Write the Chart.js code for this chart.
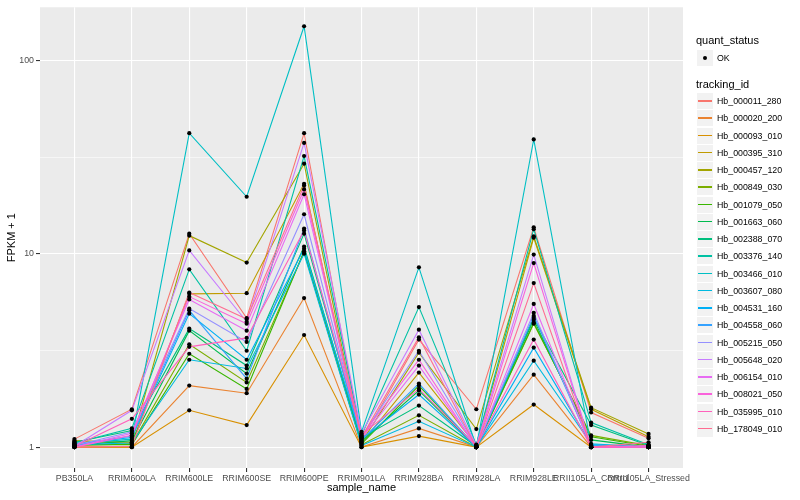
<!DOCTYPE html>
<html>
<head>
<meta charset="utf-8">
<script src="https://cdn.jsdelivr.net/npm/chart.js@4.4.1/dist/chart.umd.min.js"></script>
<style>
  body { margin: 0; background: #fff; font-family: "Liberation Sans", Arial, sans-serif; }
  #wrap { position: relative; width: 800px; height: 500px; }
  #legend { position: absolute; left: 0; top: 0; width: 800px; height: 500px; pointer-events: none; }
  .lg-title { position: absolute; left: 696px; font-size: 11px; line-height: 13px; color: #000; }
  .lg-key { position: absolute; left: 697px; width: 16px; height: 16px; background: #F2F2F2; }
  .lg-line { position: absolute; left: 1px; top: 7px; width: 14px; height: 1.5px; }
  .lg-dot { position: absolute; left: 6px; top: 6px; width: 4px; height: 4px; border-radius: 2px; background: #000; }
  .lg-text { position: absolute; left: 717px; font-size: 8.8px; line-height: 10px; color: #000; }
</style>
</head>
<body>
<div id="wrap">
  <canvas id="chart" width="800" height="500"></canvas>
  <div id="legend"></div>
</div>
<script>
const sampleNames = ["PB350LA", "RRIM600LA", "RRIM600LE", "RRIM600SE", "RRIM600PE", "RRIM901LA",
  "RRIM928BA", "RRIM928LA", "RRIM928LE", "RRII105LA_Control", "RRII105LA_Stressed"];

const trackingIds = ["Hb_000011_280", "Hb_000020_200", "Hb_000093_010", "Hb_000395_310", "Hb_000457_120",
  "Hb_000849_030", "Hb_001079_050", "Hb_001663_060", "Hb_002388_070", "Hb_003376_140", "Hb_003466_010",
  "Hb_003607_080", "Hb_004531_160", "Hb_004558_060", "Hb_005215_050", "Hb_005648_020", "Hb_006154_010",
  "Hb_008021_050", "Hb_035995_010", "Hb_178049_010"];

// FPKM + 1, one array per gene, in sampleNames order
const hb_000011_280 = [1.10, 1.57, 12.7, 4.65, 42.0, 1.08, 3.60, 1.57, 13.7, 1.51, 1.11];
const hb_000020_200 = [1.00, 1.00, 2.08, 1.90, 5.90, 1.00, 1.25, 1.00, 2.37, 1.00, 1.00];
const hb_000093_010 = [1.00, 1.00, 1.55, 1.30, 3.80, 1.00, 1.14, 1.00, 1.66, 1.00, 1.00];
const hb_000395_310 = [1.07, 1.05, 6.20, 6.25, 23.0, 1.05, 2.43, 1.02, 12.1, 1.57, 1.13];
const hb_000457_120 = [1.08, 1.06, 12.4, 9.00, 29.2, 1.06, 3.08, 1.24, 12.3, 1.60, 1.17];
const hb_000849_030 = [1.02, 1.04, 3.40, 2.16, 10.2, 1.03, 1.46, 1.00, 4.35, 1.15, 1.02];
const hb_001079_050 = [1.03, 1.03, 3.04, 2.00, 10.3, 1.04, 2.08, 1.00, 4.40, 1.13, 1.01];
const hb_001663_060 = [1.02, 1.08, 4.00, 2.40, 10.9, 1.07, 1.96, 1.00, 4.55, 1.09, 1.00];
const hb_002388_070 = [1.06, 1.22, 4.10, 2.64, 12.7, 1.12, 1.64, 1.01, 4.65, 1.30, 1.02];
const hb_003376_140 = [1.05, 1.25, 8.30, 3.15, 32.0, 1.15, 5.30, 1.03, 13.4, 1.34, 1.03];
const hb_003466_010 = [1.04, 1.10, 42.0, 19.7, 150, 1.20, 8.50, 1.00, 39.0, 1.02, 1.00];
const hb_003607_080 = [1.03, 1.05, 2.83, 2.55, 10.0, 1.02, 1.36, 1.00, 2.80, 1.04, 1.00];
const hb_004531_160 = [1.04, 1.12, 4.90, 2.83, 10.6, 1.10, 1.87, 1.00, 3.27, 1.03, 1.00];
const hb_004558_060 = [1.03, 1.14, 5.10, 2.26, 13.5, 1.09, 2.13, 1.00, 4.77, 1.02, 1.00];
const hb_005215_050 = [1.02, 1.20, 5.20, 3.50, 16.0, 1.13, 3.15, 1.01, 4.95, 1.01, 1.00];
const hb_005648_020 = [1.01, 1.55, 10.4, 4.45, 37.4, 1.18, 4.05, 1.02, 9.90, 1.00, 1.00];
const hb_006154_010 = [1.00, 1.18, 5.80, 4.00, 20.3, 1.11, 2.64, 1.00, 5.50, 1.00, 1.00];
const hb_008021_050 = [1.00, 1.15, 6.00, 4.35, 21.5, 1.14, 2.83, 1.00, 8.95, 1.00, 1.02];
const hb_035995_010 = [1.01, 1.40, 3.30, 3.67, 13.2, 1.16, 2.00, 1.01, 3.60, 1.00, 1.00];
const hb_178049_010 = [1.00, 1.01, 6.30, 4.60, 22.5, 1.12, 3.70, 1.00, 7.05, 1.00, 1.06];

const seriesValues = [hb_000011_280, hb_000020_200, hb_000093_010, hb_000395_310, hb_000457_120,
  hb_000849_030, hb_001079_050, hb_001663_060, hb_002388_070, hb_003376_140, hb_003466_010,
  hb_003607_080, hb_004531_160, hb_004558_060, hb_005215_050, hb_005648_020, hb_006154_010,
  hb_008021_050, hb_035995_010, hb_178049_010];

const yMajor = [1, 10, 100];
const yTicks = [1, Math.sqrt(10), 10, Math.sqrt(1000), 100];

// ggplot default hue palette for 20 groups
const palette = ["#F8766D", "#EA8331", "#D89000", "#C09B00", "#A3A500", "#7CAE00", "#39B600", "#00BB4E",
  "#00BF7D", "#00C1A3", "#00BFC4", "#00BAE0", "#00B0F6", "#35A2FF", "#9590FF", "#C77CFF", "#E76BF3",
  "#FA62DB", "#FF62BC", "#FF6C91"];

const FONT = "'Liberation Sans', Arial, sans-serif";

const lineSets = seriesValues.map((vals, k) => ({
  type: "line",
  label: trackingIds[k],
  data: vals.map((v, i) => ({ x: i, y: v })),
  borderColor: palette[k],
  borderWidth: 1.1,
  pointRadius: 0,
  tension: 0,
  order: -k
}));

const pointSet = {
  type: "scatter",
  label: "OK",
  data: seriesValues.flatMap(vals => vals.map((v, i) => ({ x: i, y: v }))),
  backgroundColor: "#000",
  borderWidth: 0,
  pointRadius: 2.1,
  order: -100
};

const panelBg = {
  id: "panelBg",
  beforeDraw(chart) {
    const { ctx, chartArea: a } = chart;
    ctx.save();
    ctx.fillStyle = "#EBEBEB";
    ctx.fillRect(a.left, a.top, a.right - a.left, a.bottom - a.top);
    ctx.restore();
  }
};

new Chart(document.getElementById("chart"), {
  data: { datasets: [...lineSets, pointSet] },
  options: {
    responsive: false,
    animation: false,
    events: [],
    layout: { padding: { top: 5, right: 117, bottom: 5, left: 5 } },
    plugins: { legend: { display: false }, tooltip: { enabled: false } },
    scales: {
      x: {
        type: "linear",
        min: -0.6,
        max: 10.6,
        afterBuildTicks: s => { s.ticks = sampleNames.map((_, i) => ({ value: i })); },
        afterFit: s => { s.height = 27; },
        ticks: {
          callback: v => sampleNames[v],
          autoSkip: false, maxRotation: 0, minRotation: 0,
          color: "#4D4D4D", font: { size: 8.8, family: FONT }, padding: 1
        },
        grid: { color: "#FFFFFF", lineWidth: 1.1, tickColor: "#333333", tickLength: 4 },
        border: { display: false },
        title: { display: true, text: "sample_name", color: "#000", font: { size: 11, family: FONT }, padding: 0 }
      },
      y: {
        type: "logarithmic",
        min: 0.78,
        max: 188,
        afterBuildTicks: s => { s.ticks = yTicks.map(v => ({ value: v })); },
        afterFit: s => { s.width = 35; },
        ticks: {
          callback: v => (yMajor.includes(v) ? String(v) : ""),
          autoSkip: false,
          color: "#4D4D4D", font: { size: 8.8, family: FONT }, padding: 2
        },
        grid: {
          color: "#FFFFFF",
          lineWidth: c => (c.tick && yMajor.includes(c.tick.value) ? 1.1 : 0.55),
          tickColor: c => (c.tick && yMajor.includes(c.tick.value) ? "#333333" : "rgba(0,0,0,0)"),
          tickLength: 4
        },
        border: { display: false },
        title: { display: true, text: "FPKM + 1", color: "#000", font: { size: 11, family: FONT }, padding: 0 }
      }
    }
  },
  plugins: [panelBg]
});

// legend in the ggplot layout
const legend = document.getElementById("legend");
function add(cls, top, html) {
  const el = document.createElement("div");
  el.className = cls;
  el.style.top = top + "px";
  if (html !== undefined) el.textContent = html;
  legend.appendChild(el);
  return el;
}
add("lg-title", 34, "quant_status");
const okKey = add("lg-key", 50);
okKey.appendChild(Object.assign(document.createElement("div"), { className: "lg-dot" }));
add("lg-text", 52.5, "OK");
add("lg-title", 77.5, "tracking_id");
trackingIds.forEach((id, k) => {
  const top = 93 + k * 17.25;
  const key = add("lg-key", top);
  const ln = document.createElement("div");
  ln.className = "lg-line";
  ln.style.background = palette[k];
  key.appendChild(ln);
  add("lg-text", top + 3, id);
});
</script>
</body>
</html>
